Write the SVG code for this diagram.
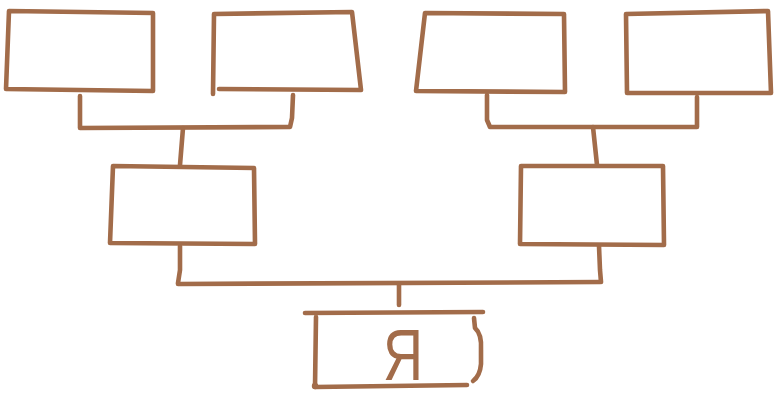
<svg xmlns="http://www.w3.org/2000/svg" width="779" height="397" viewBox="0 0 779 397">
<style>
.s{fill:none;stroke:#a26c4a;stroke-width:4.6;stroke-linecap:round;stroke-linejoin:round}
.t{font-family:"Liberation Sans",Arial,sans-serif;font-size:72px;fill:#a26c4a}
</style>
<rect width="779" height="397" fill="#ffffff"/>
<g id="connectors" class="s">
<path d="M80 96 L80 128 L290 127 L292 118 L293 95"/>
<path d="M183 128 L180 165"/>
<path d="M487 95 L487 120 L490 127 L697 127 L697 97"/>
<path d="M593 127 L597 165"/>
<path d="M180 246 L180 270 L178 283"/>
<path d="M599 246 L600 270 L601 282"/>
<path d="M178 284 L600 282"/>
<path d="M399 284 L399 305"/>
</g>
<g id="node-gf1"><path class="s" d="M9 11 L153 13 L153 91 L6 89 Z"/></g>
<g id="node-gm1"><path class="s" d="M214 14 L352 12 L361 90 L219 89 M214 14 L213 94"/></g>
<g id="node-gf2"><path class="s" d="M425 13 L564 14 L565 92 L416 91 Z"/></g>
<g id="node-gm2"><path class="s" d="M626 14 L768 11 L771 93 L627 93 Z"/></g>
<g id="node-father"><path class="s" d="M113 166 L254 168 L255 244 L110 243 Z"/></g>
<g id="node-mother"><path class="s" d="M521 166 L663 166 L664 245 L520 244 Z"/></g>
<g id="node-me">
<path class="s" d="M305 313 L483 312 M316 317 L315 387 L467 385 M474 318 L475 328 Q482 334 481 350 L481 364 Q480 376 473 381"/>
<circle cx="315" cy="386" r="3.2" fill="#a26c4a"/>
<text class="t" x="383" y="380" textLength="40" lengthAdjust="spacingAndGlyphs">Я</text>
</g>
</svg>
